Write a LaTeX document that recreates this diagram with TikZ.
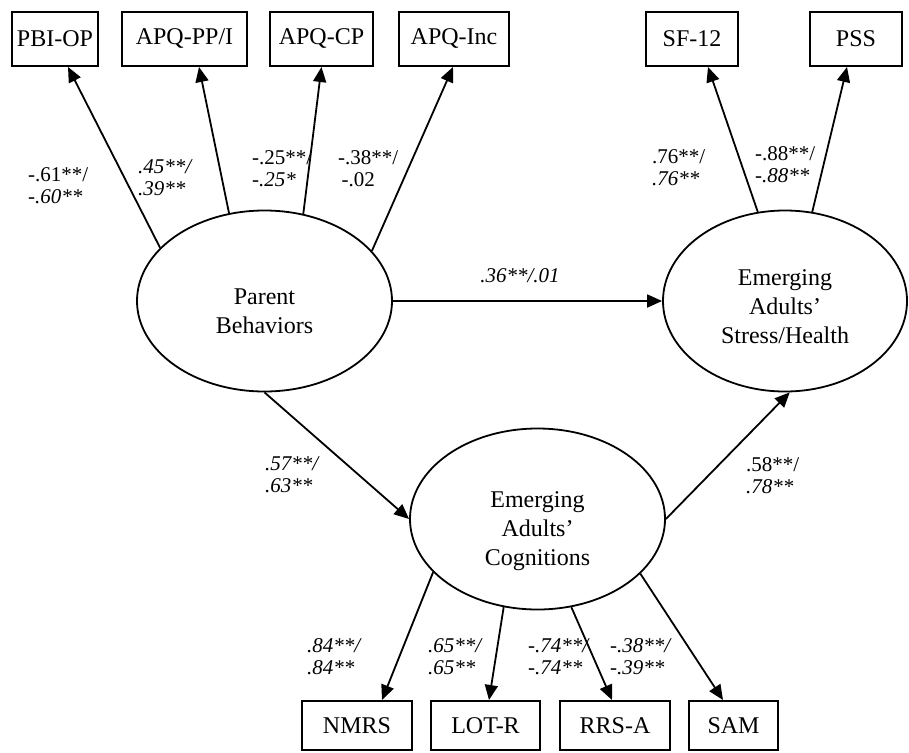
\documentclass[tikz,border=0pt]{standalone}
\usepackage{fontspec}
\setmainfont{Liberation Serif}
\usetikzlibrary{positioning,arrows.meta,shapes.geometric}

\begin{document}
\begin{tikzpicture}[x=1pt, y=-1pt,
  box/.style={draw, line width=2pt, minimum height=54pt, inner sep=0pt, font=\fontsize{24}{29}\selectfont},
  latent/.style={draw, ellipse, line width=1.8pt, minimum width=255pt, minimum height=181pt, inner sep=0pt, align=center, font=\fontsize{24}{29}\selectfont},
  link/.style={line width=1.8pt, -{Triangle[length=15pt,width=13pt]}},
  coef/.style={align=left, anchor=west, inner sep=0pt, font=\fontsize{21}{22}\selectfont}
]
  \useasboundingbox[fill=white] (0,0) rectangle (909,752);

  % latent variables
  \node[latent, text height=65pt] (pb) at (264.5,301) {Parent\\Behaviors};
  \node[latent, text height=86pt, minimum width=244pt] (st) at (785,301) {Emerging\\Adults'\\Stress/Health};
  \node[latent, text height=98pt] (cog) at (537.5,519) {Emerging\\Adults'\\Cognitions};

  % indicators
  \node[box, minimum width=86pt] (pbi) at (55,39) {PBI-OP};
  \node[box, minimum width=125pt, right=22pt of pbi] (pp) {APQ-PP/I};
  \node[box, minimum width=103pt, right=21pt of pp] (cp) {APQ-CP};
  \node[box, minimum width=110pt, right=24pt of cp] (inc) {APQ-Inc};
  \node[box, minimum width=92pt] (sf) at (692,39) {SF-12};
  \node[box, minimum width=92pt] (pss) at (856,39) {PSS};
  \node[box, minimum width=110pt, minimum height=49pt] (nmrs) at (357,725.5) {NMRS};
  \node[box, minimum width=109pt, minimum height=49pt, right=17pt of nmrs] (lot) {LOT-R};
  \node[box, minimum width=110pt, minimum height=49pt, right=18pt of lot] (rrs) {RRS-A};
  \node[box, minimum width=89pt, minimum height=49pt, right=17pt of rrs] (sam) {SAM};

  % paths
  \draw[link] (pb.153.8) -- ([xshift=13pt]pbi.south);
  \draw[link] (pb.112) -- ([xshift=14.5pt]pp.south);
  \draw[link] (pb.66.6) -- (cp.south);
  \draw[link] (pb.25.6) -- ([xshift=-1pt]inc.south);
  \draw[link] (st.107.5) -- ([xshift=16pt]sf.south);
  \draw[link] (st.73) -- ([xshift=-9pt]pss.south);
  \draw[link] (pb.east) -- (st.west);
  \draw[link] (pb.south) -- (cog.west);
  \draw[link] (cog.east) -- (st.273);
  \draw[link] (cog.207.5) -- ([xshift=25pt]nmrs.north);
  \draw[link] (cog.249) -- ([xshift=3.5pt]lot.north);
  \draw[link] (cog.291.4) -- ([xshift=-3pt]rrs.north);
  \draw[link] (cog.332.9) -- ([xshift=-10.5pt]sam.north);

  % coefficients
  \node[coef] (c1) at (28,186) {-.61**/\\\textit{-.60**}};
  \node[coef] (c2) at (138,178) {\textit{.45**/}\\\textit{.39**}};
  \node[coef] (c3) at (252,169) {-.25**/\\\textit{-.25*}};
  \node[coef] (c4) at (338,169) {-.38**/\\\,-.02};
  \node[coef] (c5) at (652,168) {.76**/\\\textit{.76**}};
  \node[coef] (c6) at (755,165) {-.88**/\\\textit{-.88**}};
  \node[coef, anchor=center] (c7) at (520,276) {\textit{.36**/.01}};
  \node[coef] (c8) at (265,475) {\textit{.57**/}\\\textit{.63**}};
  \node[coef] (c9) at (746,476) {.58**/\\\textit{.78**}};
  \node[coef] (c10) at (307,657) {\textit{.84**/}\\\textit{.84**}};
  \node[coef] (c11) at (428,657) {\textit{.65**/}\\\textit{.65**}};
  \node[coef] (c12) at (528,657) {\textit{-.74**/}\\\textit{-.74**}};
  \node[coef] (c13) at (610,657) {\textit{-.38**/}\\\textit{-.39**}};
\end{tikzpicture}
\end{document}
